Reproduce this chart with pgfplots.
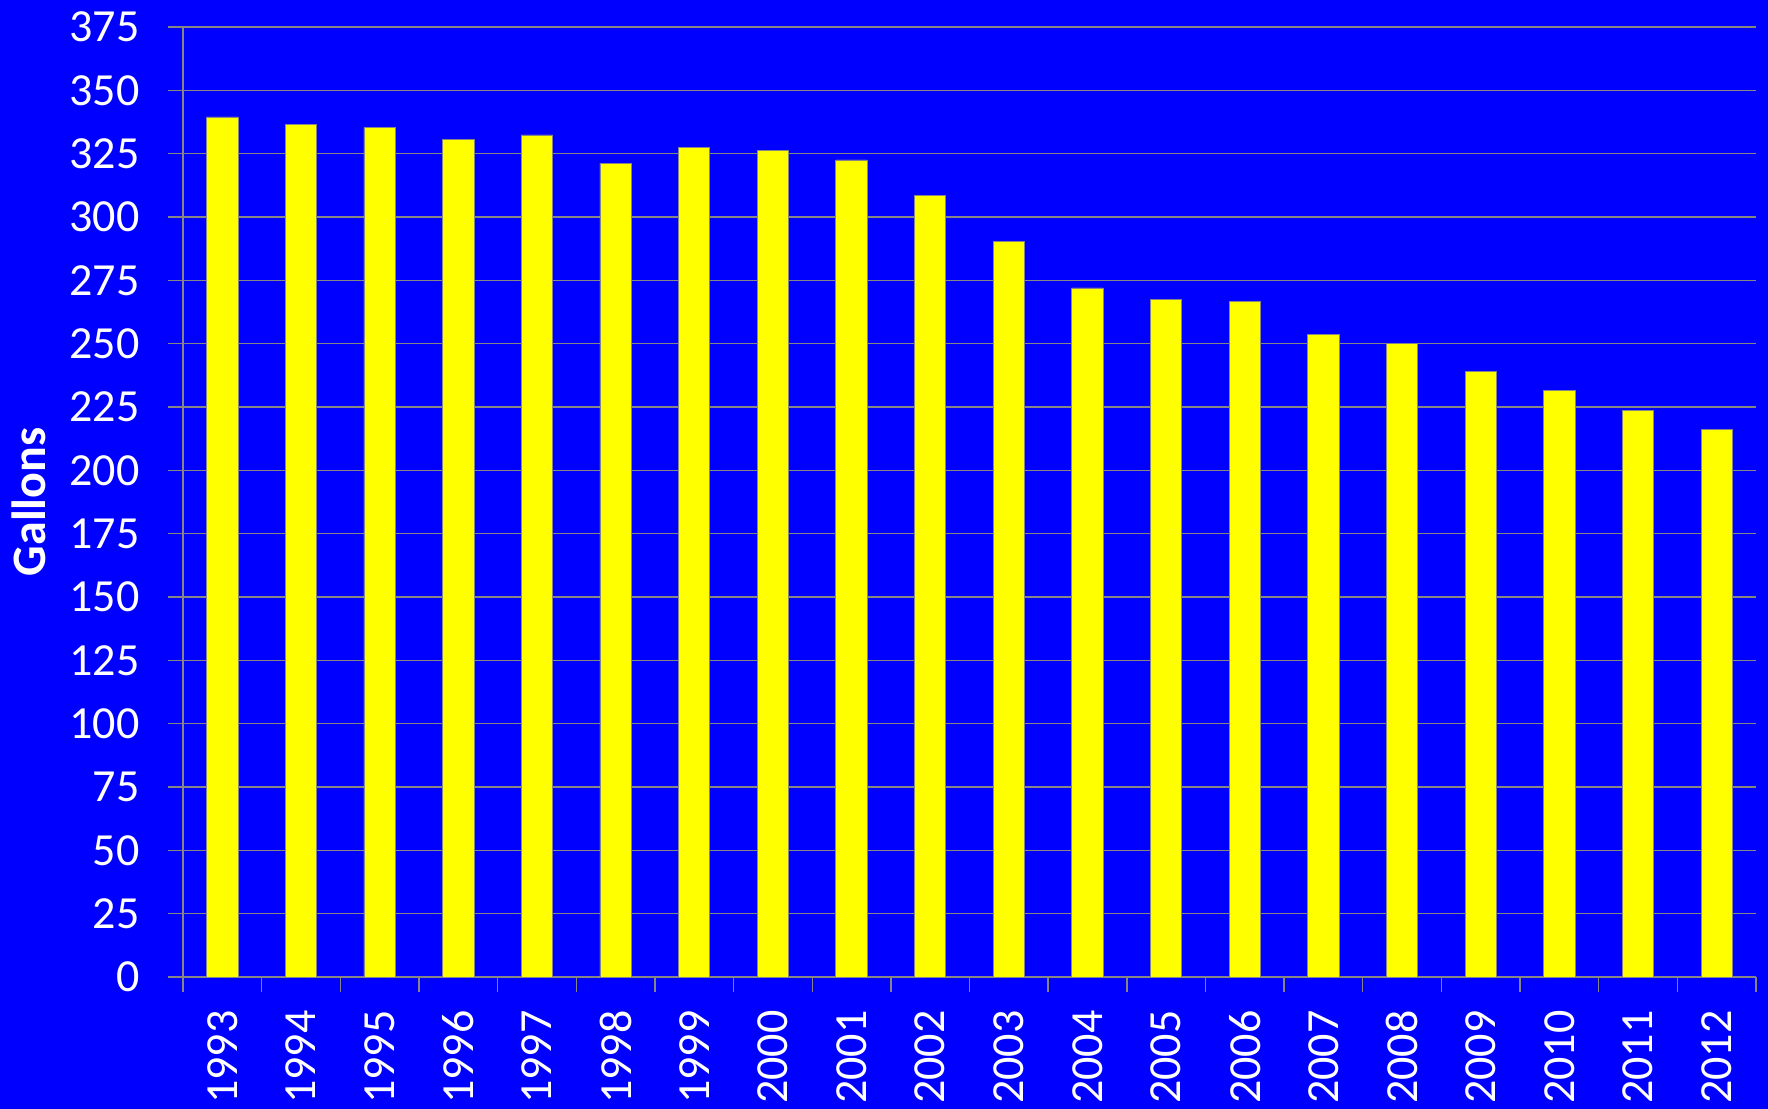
\documentclass[border=0pt]{standalone}
\usepackage{fontspec}
\setmainfont{Carlito}
\usepackage{pgfplots}
\pgfplotsset{compat=1.18}
\definecolor{bgblue}{RGB}{0,0,255}
\definecolor{baryellow}{RGB}{255,255,0}
\definecolor{gridgray}{RGB}{134,134,134}

\begin{document}
\begin{tikzpicture}
\fill[bgblue] (0,0) rectangle (884pt,554.5pt);
\useasboundingbox (0,0) rectangle (884pt,554.5pt);
\begin{axis}[
    at={(91.5pt,66pt)}, anchor=south west,
    scale only axis, width=786.5pt, height=475pt,
    ybar, bar width=15.65pt, bar shift=0pt,
    xmin=-0.5, xmax=19.5, ymin=0, ymax=375,
    ytick={0,25,...,375},
    xtick={-0.5,0.5,...,19.5},
    x tick label as interval,
    xticklabels={1993,1994,1995,1996,1997,1998,1999,2000,2001,2002,
                 2003,2004,2005,2006,2007,2008,2009,2010,2011,2012},
    axis x line*=bottom, axis y line*=left,
    axis line style={gridgray, line width=0.7pt, -},
    ymajorgrids, grid style={gridgray, line width=0.7pt},
    tick align=outside, major tick length=7.5pt,
    tick style={gridgray, line width=0.7pt},
    tick label style={font=\fontsize{23}{27}\selectfont, text=white},
    /pgf/number format/assume math mode=true,
    yticklabel style={anchor=east, inner sep=0pt, xshift=-14pt},
    % rotated labels: local x runs upward, so a negative xshift moves them down
    xticklabel style={rotate=90, anchor=east, inner sep=0pt, xshift=-9pt},
    ylabel={\bfseries Gallons},
    ylabel style={at={(rel axis cs:0,0.5)}, anchor=center, yshift=77pt,
                  font=\fontsize{24}{28}\selectfont, text=white},
]
\addplot[fill=baryellow, draw=gridgray, line width=0.4pt] coordinates {
    (0,339.5) (1,336.6) (2,335.4) (3,330.7) (4,332.4)
    (5,321.3) (6,327.4) (7,326.4) (8,322.5) (9,308.6)
    (10,290.3) (11,272.0) (12,267.5) (13,266.7) (14,253.8)
    (15,250.2) (16,239.0) (17,231.4) (18,223.8) (19,216.0)
};
\end{axis}
\end{tikzpicture}
\end{document}
